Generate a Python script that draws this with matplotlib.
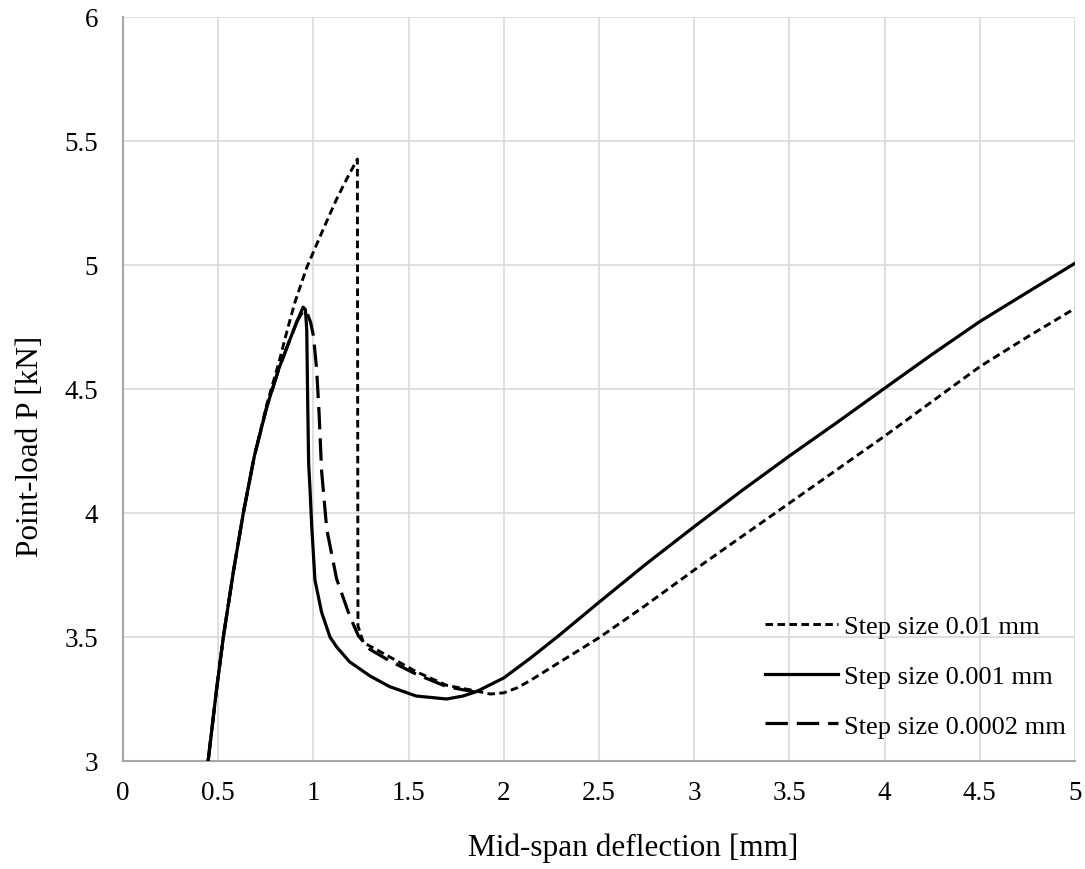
import matplotlib
matplotlib.use("Agg")
import matplotlib.pyplot as plt

plt.rcParams['font.family'] = ['Liberation Serif', 'DejaVu Serif']

# Step size 0.01 mm (dotted)
x_001 = [0.447, 0.49, 0.527, 0.58, 0.632, 0.69, 0.756, 0.82, 0.86, 0.903, 0.965, 1.052,
         1.122, 1.175, 1.231, 1.234,
         1.262, 1.40, 1.54, 1.70, 1.857, 1.93, 2.0, 2.07, 2.14, 2.28, 2.5, 2.74, 3.0,
         3.25, 3.5, 3.75, 4.0, 4.25, 4.5, 4.75, 5.0]
p_001 = [3.0, 3.28, 3.5, 3.765, 4.0, 4.23, 4.44, 4.61, 4.73, 4.85, 4.99, 5.145,
         5.266, 5.347, 5.427, 3.545,
         3.478, 3.42, 3.36, 3.305, 3.282, 3.27, 3.275, 3.295, 3.325, 3.392, 3.497, 3.625, 3.77,
         3.905, 4.04, 4.175, 4.31, 4.45, 4.59, 4.71, 4.825]

# Step size 0.001 mm (solid)
x_0001 = [0.447, 0.49, 0.527, 0.58, 0.632, 0.69, 0.756, 0.82, 0.877, 0.915, 0.946, 0.958,
          0.965, 0.97, 0.975, 0.982, 0.991, 1.008, 1.043, 1.087, 1.122, 1.19, 1.297, 1.40,
          1.54, 1.70, 1.786, 1.857, 2.0, 2.14, 2.28, 2.5, 2.74, 3.0, 3.25, 3.5, 3.75,
          4.0, 4.25, 4.5, 4.75, 5.0]
p_0001 = [3.0, 3.28, 3.5, 3.765, 4.0, 4.23, 4.43, 4.585, 4.70, 4.775, 4.83, 4.82,
          4.74, 4.45, 4.20, 4.10, 3.95, 3.73, 3.60, 3.50, 3.46, 3.40, 3.343, 3.30,
          3.262, 3.25, 3.262, 3.28, 3.335, 3.415, 3.50, 3.64, 3.79, 3.945, 4.09, 4.23, 4.365,
          4.503, 4.64, 4.772, 4.89, 5.007]

# Step size 0.0002 mm (long dash)
x_00002 = [0.447, 0.49, 0.527, 0.58, 0.632, 0.69, 0.756, 0.82, 0.877, 0.915, 0.95, 0.965,
           0.985, 1.0, 1.017, 1.03, 1.043, 1.07, 1.122, 1.19, 1.236, 1.297, 1.40, 1.54,
           1.70, 1.857]
p_00002 = [3.0, 3.28, 3.5, 3.765, 4.0, 4.23, 4.43, 4.585, 4.70, 4.775, 4.82, 4.81,
           4.77, 4.715, 4.58, 4.40, 4.17, 3.935, 3.734, 3.586, 3.505, 3.45, 3.404, 3.35,
           3.30, 3.277]

labels = ["Step size 0.01 mm", "Step size 0.001 mm", "Step size 0.0002 mm"]
x_ticks = [0, 0.5, 1, 1.5, 2, 2.5, 3, 3.5, 4, 4.5, 5]
x_ticklabels = ["0", "0.5", "1", "1.5", "2", "2.5", "3", "3.5", "4", "4.5", "5"]
y_ticks = [3, 3.5, 4, 4.5, 5, 5.5, 6]
y_ticklabels = ["3", "3.5", "4", "4.5", "5", "5.5", "6"]

fig = plt.figure(figsize=(10.85, 8.7), dpi=100)
ax = fig.add_axes([123/1085, 1 - 762/870, (1075 - 123)/1085, (762 - 18)/870])

lw = 2.3
ax.plot(x_001, p_001, color='black', lw=2.1, linestyle=(0, (2.6, 1.5)), label=labels[0],
        zorder=3, solid_joinstyle='round')
ax.plot(x_0001, p_0001, color='black', lw=lw, linestyle='-', label=labels[1], zorder=4,
        solid_joinstyle='round')
ax.plot(x_00002, p_00002, color='black', lw=lw, linestyle=(0, (7.0, 2.8)), label=labels[2],
        zorder=3)

ax.set_xlim(0, 5)
ax.set_ylim(3, 6)
ax.set_xticks(x_ticks)
ax.set_xticklabels(x_ticklabels)
ax.set_yticks(y_ticks)
ax.set_yticklabels(y_ticklabels)
ax.tick_params(axis='both', length=0, labelsize=19.5, colors='black')
ax.tick_params(axis='x', pad=14)
ax.tick_params(axis='y', pad=18)

ax.grid(True, color='#d9d9d9', lw=1.2)
ax.set_axisbelow(True)
for s in ['top', 'right']:
    ax.spines[s].set_visible(False)
for s in ['left', 'bottom']:
    ax.spines[s].set_color('#a6a6a6')
    ax.spines[s].set_linewidth(1.5)

fig.text(633/1085, 1 - 848/870, "Mid-span deflection [mm]", fontsize=22.5,
         ha='center', va='center')
fig.text(31/1085, 1 - 446/870, "Point-load P [kN]", fontsize=22.5,
         ha='center', va='center', rotation=90)

leg = ax.legend(loc='center left', bbox_to_anchor=(765/1085, 1 - 677/870),
                bbox_transform=fig.transFigure, frameon=False, fontsize=19,
                handlelength=2.75, handletextpad=0.25, labelspacing=1.0, borderpad=0,
                borderaxespad=0)

fig.savefig("out.png", dpi=100)
